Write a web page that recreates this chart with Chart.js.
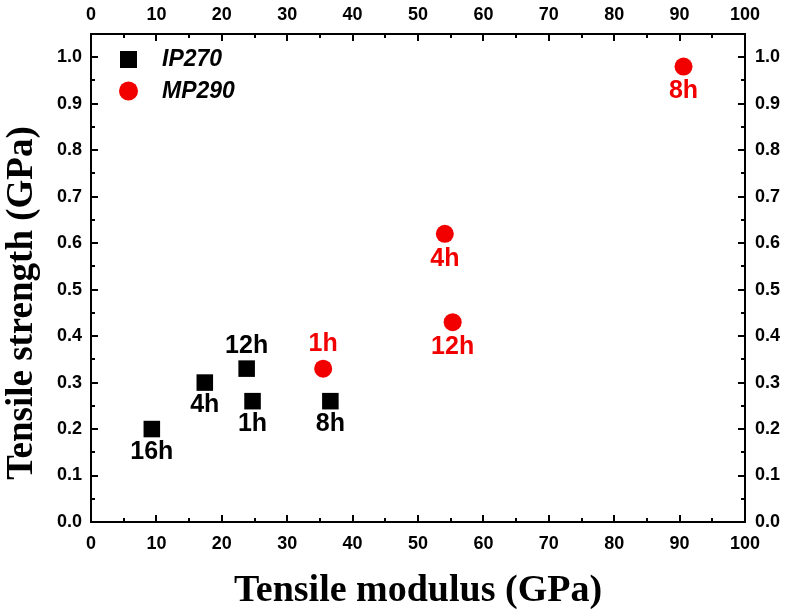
<!DOCTYPE html>
<html>
<head>
<meta charset="utf-8">
<script src="https://cdn.jsdelivr.net/npm/chart.js@4/dist/chart.umd.min.js"></script>
<style>
  body { margin: 0; background: #fff; }
  #wrap { width: 788px; height: 614px; }
</style>
</head>
<body>
<div id="wrap"><canvas id="myChart" width="788" height="614"></canvas></div>
<script>
// data
const ipModulus = [9.3, 17.4, 23.8, 24.7, 36.6];
const ipStrength = [0.20, 0.30, 0.33, 0.26, 0.26];
const ipLabels = ['16h', '4h', '12h', '1h', '8h'];

const mpModulus = [35.5, 55.3, 54.1, 90.6];
const mpStrength = [0.33, 0.43, 0.62, 0.98];
const mpLabels = ['1h', '12h', '4h', '8h'];

const seriesNames = ['IP270', 'MP290'];
const red = '#f20000';

const toPoints = (xs, ys) => xs.map((x, i) => ({ x: x, y: ys[i] }));

// which side of the mark each label goes
const ipSide = ['below', 'below', 'above', 'below', 'below'];
const mpSide = ['above', 'below', 'below', 'below'];

const isMajorX = v => Math.round(v) % 10 === 0;
const isMajorY = v => Math.round(v * 100) % 10 === 0;

const tickFont = { family: 'Liberation Sans', size: 18, weight: 'bold' };
const titleFont = { family: 'Liberation Serif', size: 38, weight: 'bold' };

// inward tick marks + point labels + legend + y title
const extrasPlugin = {
  id: 'extras',
  afterDraw(chart) {
    const ctx = chart.ctx;
    const area = chart.chartArea;
    ctx.save();
    ctx.strokeStyle = '#000';
    ctx.lineWidth = 2;
    Object.values(chart.scales).forEach(scale => {
      scale.ticks.forEach(t => {
        const p = Math.round(scale.getPixelForValue(t.value));
        const horiz = scale.isHorizontal();
        const major = horiz ? isMajorX(t.value) : isMajorY(t.value);
        const len = major ? 7 : 4;
        ctx.beginPath();
        if (scale.id === 'x') { ctx.moveTo(p, area.bottom); ctx.lineTo(p, area.bottom - len); }
        if (scale.id === 'x2') { ctx.moveTo(p, area.top); ctx.lineTo(p, area.top + len); }
        if (scale.id === 'y') { ctx.moveTo(area.left, p); ctx.lineTo(area.left + len, p); }
        if (scale.id === 'y2') { ctx.moveTo(area.right, p); ctx.lineTo(area.right - len, p); }
        ctx.stroke();
      });
    });

    // point labels
    ctx.font = 'bold 25px "Liberation Sans"';
    ctx.textAlign = 'center';
    ctx.textBaseline = 'middle';
    chart.data.datasets.forEach((ds, di) => {
      const meta = chart.getDatasetMeta(di);
      ctx.fillStyle = ds.labelColor;
      meta.data.forEach((el, i) => {
        const off = ds.labelSide[i] === 'above' ? -ds.labelGap : ds.labelGap;
        ctx.fillText(ds.pointLabels[i], el.x, el.y + off);
      });
    });

    // legend, top left inside the frame
    ctx.font = 'italic bold 23px "Liberation Sans"';
    ctx.textAlign = 'left';
    ctx.fillStyle = '#000';
    ctx.fillRect(area.left + 29, area.top + 17, 17, 17);
    ctx.fillText(seriesNames[0], area.left + 71, area.top + 26);
    ctx.fillStyle = red;
    ctx.beginPath();
    ctx.arc(area.left + 37.5, area.top + 57, 9.5, 0, Math.PI * 2);
    ctx.fill();
    ctx.fillStyle = '#000';
    ctx.fillText(seriesNames[1], area.left + 71, area.top + 58);

    // y axis title, sits a bit below the middle in the original
    ctx.font = 'bold 37px "Liberation Serif"';
    ctx.textAlign = 'center';
    ctx.textBaseline = 'middle';
    ctx.translate(22, 303);
    ctx.rotate(-Math.PI / 2);
    ctx.fillText('Tensile strength (GPa)', 0, 0);
    ctx.restore();
  }
};

const xAxis = (pos, size, showTitle) => ({
  type: 'linear',
  position: pos,
  min: 0,
  max: 100,
  grid: { display: false },
  border: { display: true, color: '#000', width: 2 },
  ticks: {
    stepSize: 5,
    autoSkip: false,
    maxRotation: 0,
    color: '#000',
    font: tickFont,
    padding: pos === 'bottom' ? 3 : 0,
    callback: v => isMajorX(v) ? String(v) : ''
  },
  title: {
    display: showTitle,
    text: 'Tensile modulus (GPa)',
    color: '#000',
    font: titleFont,
    padding: { top: 0, bottom: 0 }
  },
  afterFit: s => { s.height = size; }
});

const yAxis = (pos, size) => ({
  type: 'linear',
  position: pos,
  min: 0,
  max: 1.05,
  grid: { display: false },
  border: { display: true, color: '#000', width: 2 },
  ticks: {
    stepSize: 0.05,
    autoSkip: false,
    color: '#000',
    font: tickFont,
    padding: pos === 'left' ? 1 : 2,
    callback: v => isMajorY(v) ? v.toFixed(1) : ''
  },
  afterFit: s => { s.width = size; }
});

const myChart = new Chart(document.getElementById('myChart'), {
  type: 'scatter',
  data: {
    datasets: [
      {
        label: seriesNames[0],
        data: toPoints(ipModulus, ipStrength),
        pointStyle: 'rect',
        pointRadius: 11.7,
        backgroundColor: '#000',
        borderWidth: 0,
        xAxisID: 'x',
        yAxisID: 'y',
        pointLabels: ipLabels,
        labelSide: ipSide,
        labelColor: '#000',
        labelGap: 23
      },
      {
        label: seriesNames[1],
        data: toPoints(mpModulus, mpStrength),
        pointStyle: 'circle',
        pointRadius: 9,
        backgroundColor: red,
        borderWidth: 0,
        xAxisID: 'x',
        yAxisID: 'y',
        pointLabels: mpLabels,
        labelSide: mpSide,
        labelColor: red,
        labelGap: 25
      }
    ]
  },
  options: {
    responsive: false,
    animation: false,
    layout: { padding: 0 },
    plugins: { legend: { display: false }, tooltip: { enabled: false } },
    scales: {
      x: xAxis('bottom', 92, true),
      x2: xAxis('top', 34, false),
      y: yAxis('left', 91),
      y2: yAxis('right', 43)
    }
  },
  plugins: [extrasPlugin]
});
</script>
</body>
</html>
